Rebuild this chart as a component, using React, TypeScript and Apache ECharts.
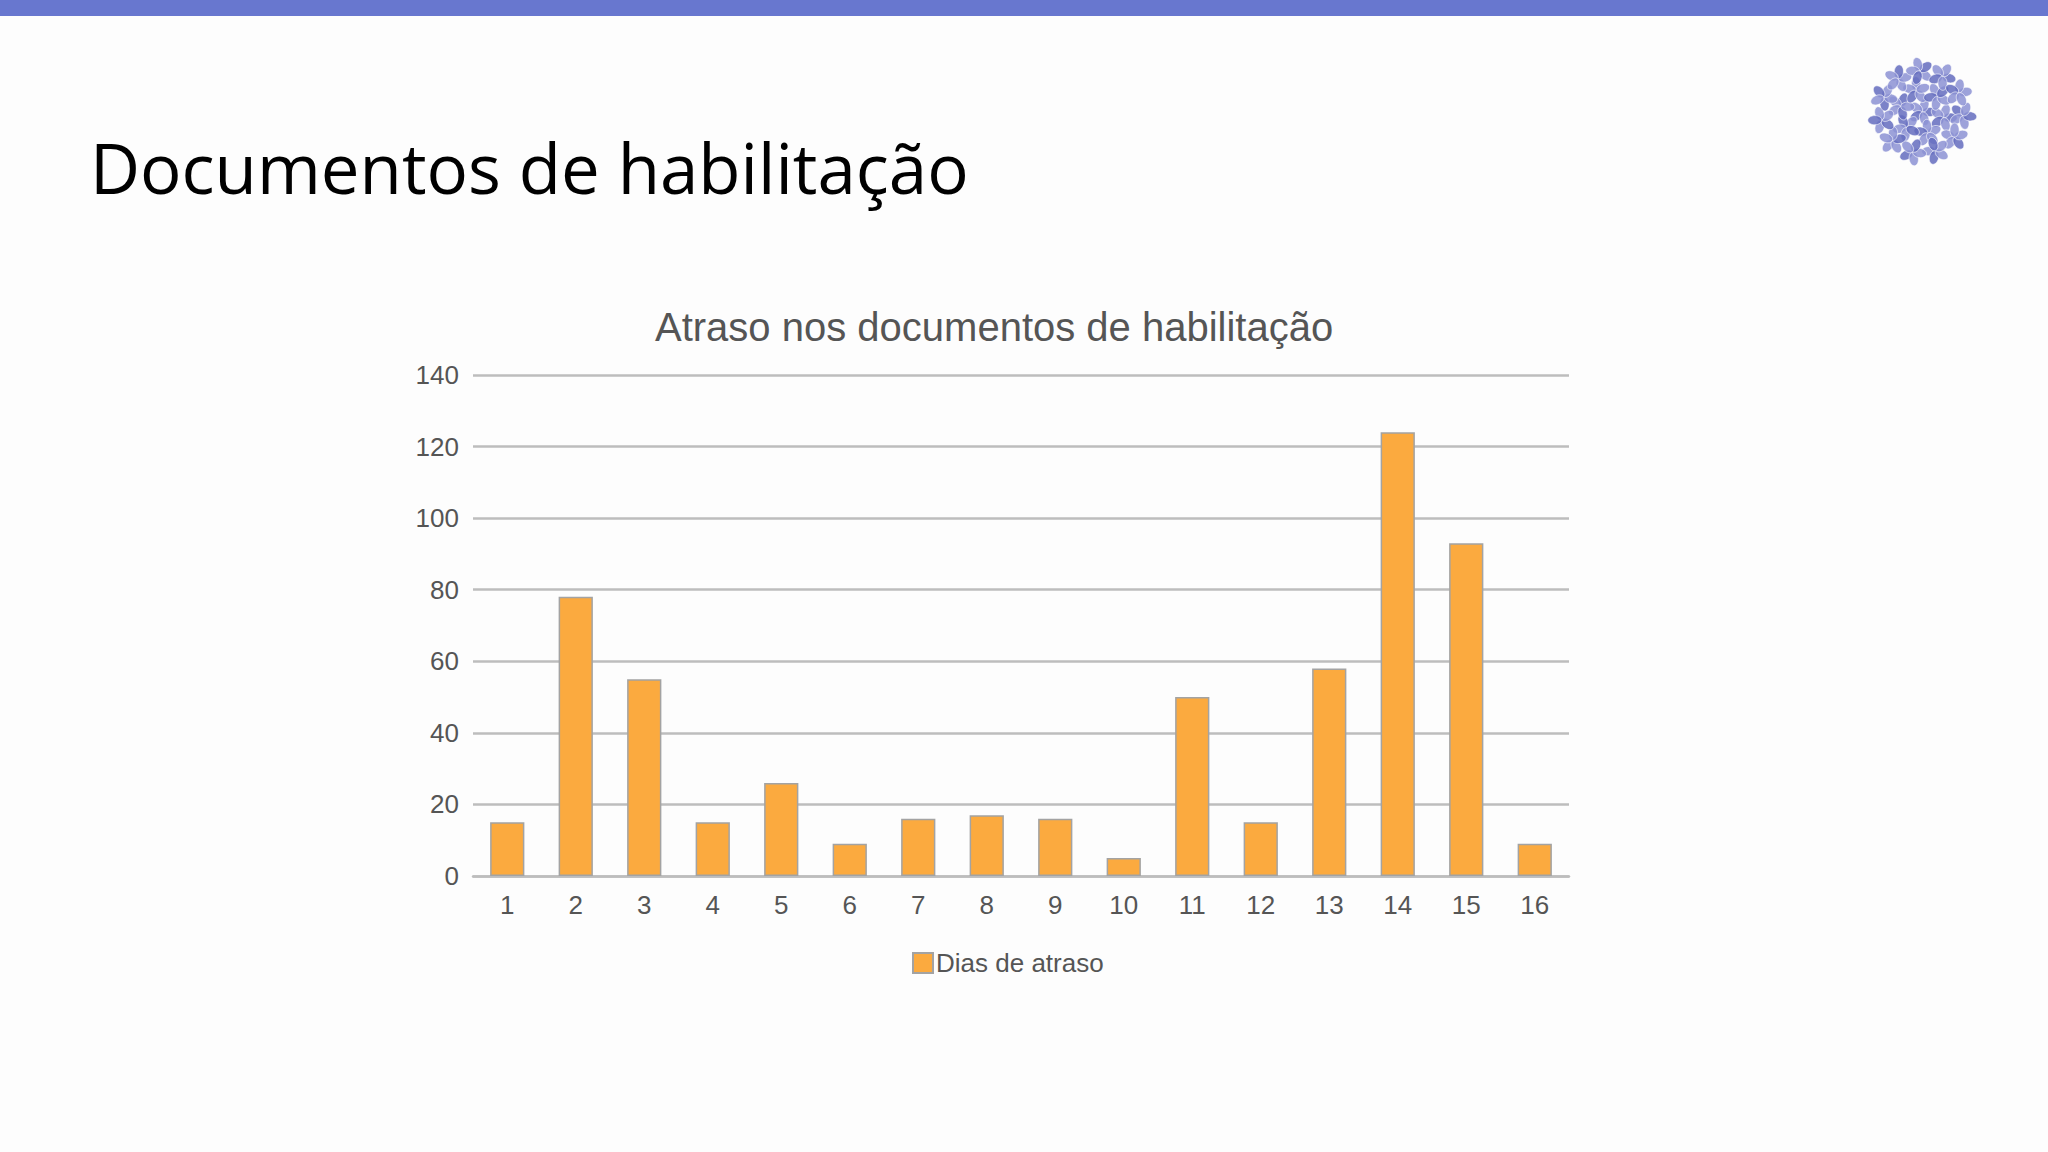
import React, { useEffect, useRef } from "react";
import * as echarts from "echarts";

const categories = ["1", "2", "3", "4", "5", "6", "7", "8", "9", "10", "11", "12", "13", "14", "15", "16"];
const diasDeAtraso = [15, 78, 55, 15, 26, 9, 16, 17, 16, 5, 50, 15, 58, 124, 93, 9];
const yTicks = { min: 0, max: 140, interval: 20 };
const seriesName = "Dias de atraso";
const chartTitle = "Atraso nos documentos de habilitação";
const slideTitle = "Documentos de habilitação";

function buildLogo(cx: number, cy: number) {
  const flowers: any[] = [];
  const spots: [number, number, number][] = [[0, 0, 0]];
  for (let i = 0; i < 6; i++) spots.push([22, (i * 60 + 15) * Math.PI / 180, i]);
  for (let i = 0; i < 11; i++) spots.push([41, (i * (360 / 11) + 5) * Math.PI / 180, i + 6]);
  spots.forEach(([r, a, k]) => {
    const x = cx + r * Math.cos(a);
    const y = cy + r * Math.sin(a);
    const petals: any[] = [];
    for (let p = 0; p < 5; p++) {
      petals.push({
        type: "group",
        rotation: (p * 72 * Math.PI) / 180,
        children: [
          {
            type: "ellipse",
            shape: { cx: 7, cy: 0, rx: 7, ry: 4.6 },
            style: {
              fill: (k + p) % 3 === 0 ? "rgba(100,108,190,0.85)" : "rgba(140,146,212,0.85)",
              stroke: "rgba(255,255,255,0.7)",
              lineWidth: 0.8,
            },
          },
        ],
      });
    }
    flowers.push({ type: "group", x, y, rotation: (k * 23 * Math.PI) / 180, children: petals });
  });
  return { type: "group", children: flowers };
}

export default function App() {
  const ref = useRef<HTMLDivElement>(null);
  useEffect(() => {
    if (!ref.current) return;
    const chart = echarts.init(ref.current, undefined, { renderer: "svg" });
    const labelColor = "#555555";
    const font = "'Liberation Sans', Arial, sans-serif";
    chart.setOption({
      animation: false,
      backgroundColor: "#fdfdfd",
      title: {
        text: chartTitle,
        left: 650,
        top: 302,
        textStyle: { fontFamily: font, fontSize: 40, fontWeight: "normal", color: labelColor },
      },
      legend: {
        data: [seriesName],
        left: 907,
        top: 945,
        icon: "rect",
        itemWidth: 20,
        itemHeight: 20,
        itemGap: 10,
        textStyle: { fontFamily: font, fontSize: 26, color: labelColor, padding: [0, 0, 0, -2] },
      },
      grid: { left: 473, right: 479, top: 375, bottom: 276, containLabel: false },
      xAxis: {
        type: "category",
        data: categories,
        axisLine: { show: true, lineStyle: { color: "#bdbdbd", width: 2.5 } },
        axisTick: { show: false },
        axisLabel: { fontFamily: font, fontSize: 26, color: labelColor, margin: 16 },
      },
      yAxis: {
        type: "value",
        min: yTicks.min,
        max: yTicks.max,
        interval: yTicks.interval,
        axisLine: { show: false },
        axisTick: { show: false },
        axisLabel: { fontFamily: font, fontSize: 26, color: labelColor, margin: 14 },
        splitLine: { show: true, lineStyle: { color: "#bdbdbd", width: 2.5 } },
      },
      series: [
        {
          name: seriesName,
          type: "bar",
          data: diasDeAtraso,
          barWidth: "50%",
          itemStyle: { color: "#fbaa3f", borderColor: "#a3a3a3", borderWidth: 1.5 },
        },
      ],
      graphic: [
        { type: "rect", shape: { x: 0, y: 0, width: 2048, height: 16 }, style: { fill: "#6877cf" } },
        {
          type: "text",
          x: 90,
          y: 167,
          style: {
            text: slideTitle,
            fontFamily: "'Open Sans', 'Noto Sans', sans-serif",
            fontSize: 69,
            fill: "#000000",
            verticalAlign: "middle",
            align: "left",
          },
        },
        buildLogo(1922, 112),
      ],
    });
    return () => chart.dispose();
  }, []);
  return (
    <div
      ref={ref}
      style={{ position: "fixed", left: 0, top: 0, width: 2048, height: 1152 }}
    />
  );
}
